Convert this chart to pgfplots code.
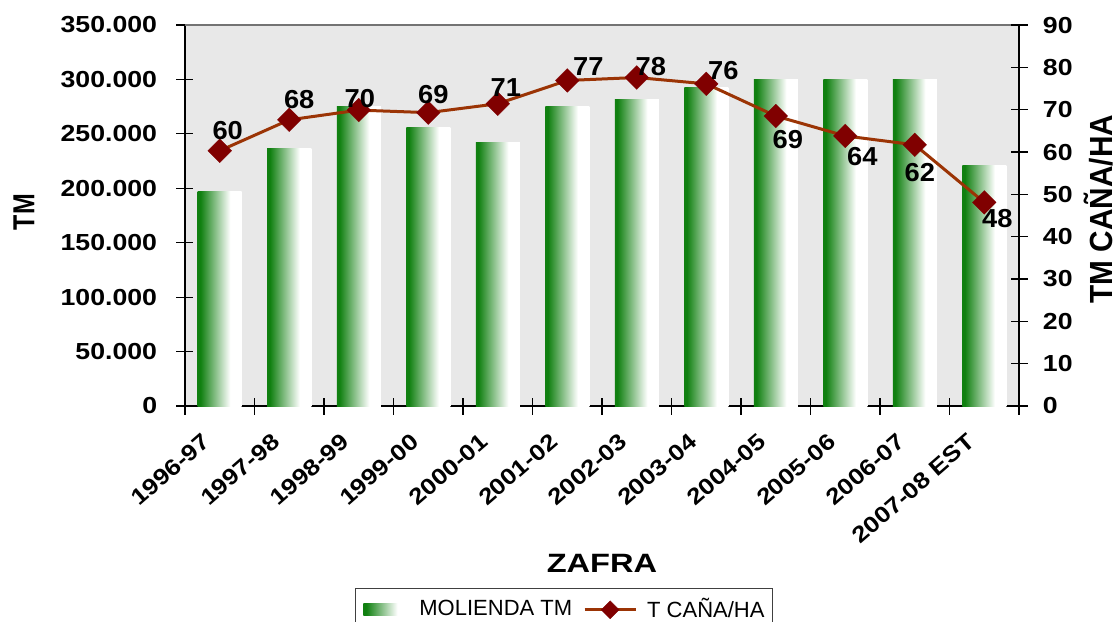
\documentclass[border=0pt]{standalone}
\usepackage{fontspec}
\setmainfont{Liberation Sans}
\newfontfamily\tickfont{Liberation Sans}[FakeStretch=1.15]
\newfontfamily\datafont{Liberation Sans}[FakeStretch=1.05]
\newfontfamily\zafrafont{Liberation Sans}[FakeStretch=1.23]
\newfontfamily\tmfont{Liberation Sans}[FakeStretch=0.82]
\newfontfamily\rlabfont{Liberation Sans}[FakeStretch=0.93]
\usepackage{pgfplots}
\pgfplotsset{compat=1.18}
\usepackage{pgfplotstable}
\definecolor{barg}{RGB}{16,128,16}
\definecolor{bggray}{RGB}{232,232,232}
\definecolor{linec}{RGB}{155,52,5}
\definecolor{markc}{RGB}{128,0,0}
\pgfdeclarehorizontalshading{bargrad}{100bp}{color(0bp)=(barg); color(28bp)=(barg); color(62bp)=(white); color(100bp)=(white)}

\pgfplotstableread{
x y
0 197500
1 236700
2 274900
3 255600
4 241900
5 275000
6 281400
7 292400
8 299800
9 299800
10 299800
11 220700
}\bardata

\pgfplotstableread{
x y lab dx dy
0 60.3 60 4 10
1 67.6 68 5 10
2 69.9 70 0.5 6
3 69.3 69 2.5 9
4 71.4 71 4 8
5 76.9 77 10.5 7
6 77.6 78 7 5.5
7 76.1 76 8.5 6.75
8 68.5 69 6 -12
9 63.8 64 8.5 -10.25
10 61.7 62 2.5 -13.75
11 48.1 48 6.5 -7.85
}\linedata

\begin{document}
\begin{tikzpicture}
\useasboundingbox (-92.5pt,-107.5pt) rectangle (466pt,203pt);
\begin{axis}[
  scale only axis, width=417pt, height=190.5pt,
  xmin=-0.5, xmax=11.5, ymin=0, ymax=350000,
  axis background/.style={fill=bggray},
  axis x line*=bottom, axis y line*=left,
  axis line style={-, black, line width=0.8pt},
  tick align=center,
  tick style={black, line width=0.6pt},
  ytick={0,50000,100000,150000,200000,250000,300000,350000},
  scaled y ticks=false,
  /pgf/number format/assume math mode=true,
  yticklabel style={/pgf/number format/fixed, /pgf/number format/precision=0, /pgf/number format/1000 sep={.}},
  y tick label style={font=\tickfont\bfseries\fontsize{11.6}{13}\selectfont, anchor=east, inner sep=0pt, xshift=-9.5pt},
  major tick length=8.5pt,
  xtick={-0.5,0.5,...,11.5}, xticklabels={},
  extra x ticks={0,1,2,3,4,5,6,7,8,9,10,11},
  extra x tick labels={1996-97,1997-98,1998-99,1999-00,2000-01,2001-02,2002-03,2003-04,2004-05,2005-06,2006-07,2007-08 EST},
  extra x tick style={major tick length=0pt},
  x tick label style={font=\tickfont\bfseries\fontsize{11.3}{13}\selectfont, inner sep=0pt, anchor=east, xshift=-6.5pt, yshift=-16pt, rotate=41},
  xlabel={ZAFRA},
  every axis x label/.style={at={(axis description cs:0.5,0)}, anchor=center, yshift=-78.5pt, font=\zafrafont\bfseries\fontsize{13.25}{15}\selectfont},
  ylabel={TM},
  every axis y label/.style={at={(axis description cs:-0.193,0.509)}, anchor=center, rotate=90, font=\tmfont\bfseries\fontsize{15.2}{17}\selectfont},
  after end axis/.code={\draw[black!55, line width=0.8pt] (rel axis cs:0,1) -- (rel axis cs:1,1);},
]
\pgfplotsinvokeforeach{0,...,11}{
  \addplot[ybar, bar width=22pt, bar shift=0pt, draw=none, shading=bargrad, restrict x to domain=#1:#1] table[x=x, y=y] {\bardata};
}
\end{axis}
\begin{axis}[
  scale only axis, width=417pt, height=190.5pt,
  xmin=-0.5, xmax=11.5, ymin=0, ymax=90,
  axis y line*=right, axis x line=none,
  axis line style={-, black, line width=0.8pt},
  tick align=center, major tick length=8.5pt,
  tick style={black, line width=0.6pt},
  ytick={0,10,...,90},
  /pgf/number format/assume math mode=true,
  y tick label style={font=\tickfont\bfseries\fontsize{11.6}{13}\selectfont, anchor=west, inner sep=0pt, xshift=7.5pt},
  ylabel={TM CAÑA/HA},
  every axis y label/.style={at={(axis description cs:1.095,0.517)}, anchor=center, rotate=90, font=\rlabfont\bfseries\fontsize{16}{18}\selectfont},
  clip=false,
  legend columns=2,
  legend style={at={(axis description cs:0.4544,-0.4777)}, anchor=north, draw=black!75, line width=0.6pt, fill=white,
    inner xsep=4pt, inner ysep=5pt, font=\fontsize{11}{13}\selectfont, nodes={inner sep=0pt},
    /tikz/every odd column/.append style={column sep=5pt},
    /tikz/every even column/.append style={column sep=5.5pt}},
  legend cell align=left,
]
\addlegendimage{legend image code/.code={\path[shading=bargrad, draw=none] (0pt,-3pt) rectangle (23pt,3pt);}}
\addlegendentry{MOLIENDA TM}
\addplot[color=linec, line width=1.5pt, mark=square*, mark size=4.2pt,
  mark options={rotate=45, fill=markc, draw=markc, line width=0.1pt},
  nodes near coords, point meta=explicit symbolic,
  visualization depends on={\thisrow{dx}\as\dx},
  visualization depends on={\thisrow{dy}\as\dy},
  every node near coord/.append style={anchor=center, xshift=\dx pt, yshift=\dy pt, text=black, inner sep=0pt, font=\datafont\bfseries\fontsize{13}{15}\selectfont},
  legend image code/.code={\draw[color=linec, line width=1.5pt, mark=square*, mark size=3.2pt, mark options={rotate=45, fill=markc, draw=markc, line width=0.1pt}, mark repeat=2, mark phase=2] plot coordinates {(0pt,0pt) (12.75pt,0pt) (25.5pt,0pt)};}
] table[x=x, y=y, meta=lab] {\linedata};
\addlegendentry{T CAÑA/HA}
\end{axis}
\end{tikzpicture}
\end{document}
